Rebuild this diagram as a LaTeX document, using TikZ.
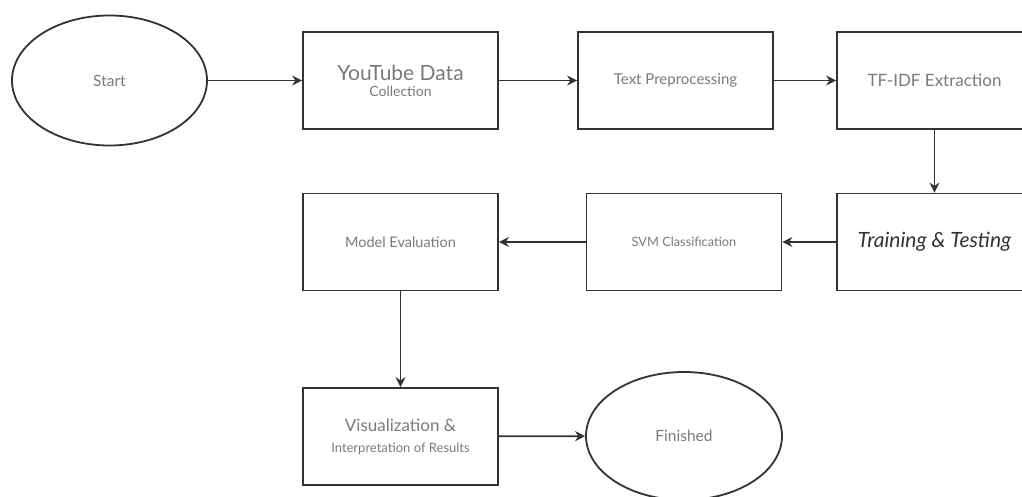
\documentclass[tikz,border=0pt]{standalone}
\usepackage{fontspec}
\setmainfont{Lato}
\usetikzlibrary{arrows.meta,shapes.geometric}
\definecolor{ln}{HTML}{333333}
\definecolor{tx}{HTML}{7A7A7A}
\tikzset{
  box/.style={draw=ln, line width=1.8pt, minimum width=195pt, minimum height=97pt, inner sep=0pt, text=tx, align=center},
  oval/.style={draw=ln, line width=1.8pt, ellipse, minimum width=195pt, minimum height=130pt, inner sep=0pt, text=tx, align=center},
  conn/.style={draw=ln, line width=1.8pt, -{Stealth[length=10pt,width=10pt]}}
}
\begin{document}
\begin{tikzpicture}[x=1pt,y=-1pt]
\useasboundingbox (0,0) rectangle (1022,497);
\begin{scope}
\clip (0,0) rectangle (1022,497);
\node[oval] (start) at (109.5,80.5) {\fontsize{15.5}{17}\selectfont Start};
\node[box] (yt) at (400.5,80.5) {\fontsize{21}{21}\selectfont YouTube Data\\[4pt]\fontsize{14}{16}\selectfont Collection};
\node[box] (tp) at (675.5,80.5) {\fontsize{15}{17}\selectfont Text Preprocessing};
\node[box] (tf) at (934.5,80.5) {\fontsize{17}{19}\selectfont TF-IDF Extraction};
\node[box] (tt) at (934.5,242) {\fontsize{21}{23}\selectfont\itshape\color{ln} Training \& Testing};
\node[box] (svm) at (684,242) {\fontsize{12.8}{14}\selectfont SVM Classification};
\node[box] (me) at (400.5,242) {\fontsize{14.5}{16}\selectfont Model Evaluation};
\node[box] (vis) at (400.5,436.5) {\fontsize{17}{19}\selectfont Visualization \&\\[9pt]\fontsize{13}{14}\selectfont Interpretation of Results};
\node[oval, minimum width=196pt, minimum height=128pt] (fin) at (684,436) {\fontsize{15.5}{17}\selectfont Finished};
\draw[conn] (start) -- (yt);
\draw[conn] (yt) -- (tp);
\draw[conn] (tp) -- (tf);
\draw[conn] (tf) -- (tt);
\draw[conn] (tt) -- (svm);
\draw[conn] (svm) -- (me);
\draw[conn] (me) -- (vis);
\draw[conn] (vis) -- (fin);
\end{scope}
\end{tikzpicture}
\end{document}
